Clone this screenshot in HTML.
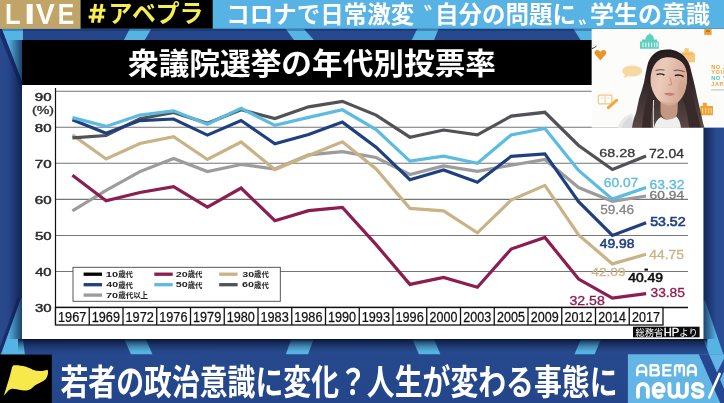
<!DOCTYPE html>
<html><head><meta charset="utf-8"><title>ABEMA news</title>
<style>html,body{margin:0;padding:0;background:#27498f;}body{width:724px;height:403px;overflow:hidden;font-family:"Liberation Sans",sans-serif;}svg{display:block}</style>
</head><body><svg role="img" aria-label="LIVE #アベプラ コロナで日常激変〝自分の問題に〟学生の意識 衆議院選挙の年代別投票率 若者の政治意識に変化？人生が変わる事態に ABEMA news" style="will-change:transform" width="724" height="403" viewBox="0 0 724 403"><defs>
<linearGradient id="bg" x1="0" y1="0" x2="1" y2="0">
<stop offset="0" stop-color="#28498c"/><stop offset="0.03" stop-color="#25458a"/><stop offset="0.5" stop-color="#27498f"/><stop offset="0.97" stop-color="#28498e"/><stop offset="1" stop-color="#2a4d94"/>
</linearGradient>
<linearGradient id="bar" x1="0" y1="0" x2="0" y2="1">
<stop offset="0" stop-color="#26498e"/><stop offset="1" stop-color="#24458a"/>
</linearGradient>
<linearGradient id="shl" x1="0" y1="0" x2="1" y2="0">
<stop offset="0" stop-color="#0b1b45" stop-opacity="0"/><stop offset="1" stop-color="#0b1b45" stop-opacity="0.75"/>
</linearGradient>
<linearGradient id="shr" x1="1" y1="0" x2="0" y2="0">
<stop offset="0" stop-color="#0b1b45" stop-opacity="0"/><stop offset="1" stop-color="#0b1b45" stop-opacity="0.75"/>
</linearGradient>
<linearGradient id="shb" x1="0" y1="1" x2="0" y2="0">
<stop offset="0" stop-color="#08122f" stop-opacity="0"/><stop offset="0.4" stop-color="#08122f" stop-opacity="0.25"/><stop offset="0.75" stop-color="#08122f" stop-opacity="0.6"/><stop offset="1" stop-color="#08122f" stop-opacity="0.97"/>
</linearGradient>
</defs>
<rect width="724" height="403" fill="url(#bg)"/>
<polygon fill="#55b4e4" points="1.7,28.7 23,28.7 23,84"/>
<polygon fill="#55b4e4" points="129.8,28.7 151.4,28.7 144.7,40 123.9,40"/>
<polygon fill="#55b4e4" points="285.6,28.7 303.8,28.7 313.8,40 293.9,40"/>
<polygon fill="#55b4e4" points="417.2,28.7 438.7,28.7 434,40 411.8,40"/>
<polygon fill="#55b4e4" points="573.4,28.7 592,28.7 592,40 580.6,40"/>
<polygon fill="#55b4e4" points="20.9,298 23,298 23,339 25,355 0.5,355"/>
<polygon fill="#55b4e4" points="124.3,339 145.8,339 152.5,354.6 131,354.6"/>
<polygon fill="#55b4e4" points="291.4,339 313.6,339 308,354.6 285.7,354.6"/>
<polygon fill="#55b4e4" points="412.4,339 433.9,339 440.5,354.6 419,354.6"/>
<polygon fill="#55b4e4" points="581,339 601,339 594.6,354.6 574.4,354.6"/>
<polygon fill="#55b4e4" points="704.8,299.8 724,356.3 724,388.4 709,354.3 703.1,338.5 703.4,303"/>
<polygon fill="#182d6c" points="0,28.7 1.7,28.7 23,84 23,94 0,36"/>
<polygon fill="#182d6c" points="20.9,298 0.5,355 0,355 0,347 17.5,298"/>
<rect x="0" y="28.7" width="724" height="2.2" fill="#0d2150" opacity="0.35"/>
<rect x="0" y="0" width="724" height="28.7" fill="#58b3e5"/>
<rect x="0" y="0" width="80.6" height="28.7" fill="#c0a468"/>
<rect x="80.6" y="0" width="132.1" height="28.7" fill="#000"/>
<text transform="translate(5.09,23.60) scale(0.857,1)" font-family="Liberation Sans, sans-serif" font-size="29.80" font-weight="bold" fill="#fffdf6">L</text>
<text transform="translate(23.96,23.60) scale(1.375,1)" font-family="Liberation Sans, sans-serif" font-size="29.80" font-weight="bold" fill="#fffdf6">I</text>
<text transform="translate(35.80,23.60) scale(0.961,1)" font-family="Liberation Sans, sans-serif" font-size="29.80" font-weight="bold" fill="#fffdf6">V</text>
<text transform="translate(57.84,23.60) scale(0.831,1)" font-family="Liberation Sans, sans-serif" font-size="29.80" font-weight="bold" fill="#fffdf6">E</text>
<path stroke="#f5ef52" stroke-width="3" fill="none" d="M95.6,3.9 L92.4,22.7 M102,3.9 L98.8,22.7 M90,10.2 H105.5 M88.6,17.1 H104.2"/>
<text x="108.5" y="22" font-family="'Liberation Sans', 'Noto Sans CJK JP', sans-serif" font-size="24" font-weight="bold" fill="#f5ef52" textLength="95" lengthAdjust="spacingAndGlyphs">アベプラ</text>
<text x="226.3" y="22.5" font-family="'Liberation Sans', 'Noto Sans CJK JP', sans-serif" font-size="23.5" font-weight="bold" fill="#fff" textLength="188" lengthAdjust="spacingAndGlyphs">コロナで日常激変</text>
<text x="435" y="22.5" font-family="'Liberation Sans', 'Noto Sans CJK JP', sans-serif" font-size="23.5" font-weight="bold" fill="#fff" textLength="141" lengthAdjust="spacingAndGlyphs">自分の問題に</text>
<text x="590" y="22.5" font-family="'Liberation Sans', 'Noto Sans CJK JP', sans-serif" font-size="23.5" font-weight="bold" fill="#fff" textLength="120" lengthAdjust="spacingAndGlyphs">学生の意識</text>
<path stroke="#fff" stroke-width="2" fill="none" d="M424.9,5.4 L427.7,10.6 M428.1,5 L430.9,9.6"/>
<path stroke="#fff" stroke-width="2" fill="none" d="M579.5,19.9 L581.9,24.7 M582.9,19.6 L585.2,24"/>
<rect x="8" y="40" width="14" height="299" fill="url(#shl)"/>
<rect x="703.4" y="128" width="13" height="211" fill="url(#shr)"/>
<rect x="18" y="339" width="689.4" height="13" fill="url(#shb)"/>
<rect x="22" y="40" width="681.4" height="299" fill="#fff"/>
<rect x="22" y="40" width="681.4" height="45" fill="#000"/>
<text x="128" y="74" font-family="'Liberation Sans', 'Noto Sans CJK JP', sans-serif" font-size="30" font-weight="bold" fill="#fff" textLength="368" lengthAdjust="spacingAndGlyphs">衆議院選挙の年代別投票率</text>
<line x1="55.5" y1="91.2" x2="688" y2="91.2" stroke="#757575" stroke-width="1.05"/>
<line x1="55.5" y1="127.25" x2="688" y2="127.25" stroke="#757575" stroke-width="1.05"/>
<line x1="55.5" y1="163.3" x2="688" y2="163.3" stroke="#757575" stroke-width="1.05"/>
<line x1="55.5" y1="199.35" x2="688" y2="199.35" stroke="#757575" stroke-width="1.05"/>
<line x1="55.5" y1="235.4" x2="688" y2="235.4" stroke="#757575" stroke-width="1.05"/>
<line x1="55.5" y1="271.45" x2="688" y2="271.45" stroke="#757575" stroke-width="1.05"/>
<line x1="55.5" y1="88" x2="55.5" y2="325" stroke="#111" stroke-width="1.2"/>
<line x1="55.5" y1="307.5" x2="688" y2="307.5" stroke="#111" stroke-width="1.3"/>
<text transform="translate(34.79,100.84) scale(1.389,1)" font-family="Liberation Sans, sans-serif" font-size="10.88" fill="#2a2a2a" stroke="#2a2a2a" stroke-width="0.45">90</text>
<text transform="translate(34.85,131.59) scale(1.384,1)" font-family="Liberation Sans, sans-serif" font-size="10.88" fill="#2a2a2a" stroke="#2a2a2a" stroke-width="0.45">80</text>
<text transform="translate(34.72,167.64) scale(1.395,1)" font-family="Liberation Sans, sans-serif" font-size="10.88" fill="#2a2a2a" stroke="#2a2a2a" stroke-width="0.45">70</text>
<text transform="translate(34.73,203.69) scale(1.394,1)" font-family="Liberation Sans, sans-serif" font-size="10.88" fill="#2a2a2a" stroke="#2a2a2a" stroke-width="0.45">60</text>
<text transform="translate(34.90,239.74) scale(1.379,1)" font-family="Liberation Sans, sans-serif" font-size="10.88" fill="#2a2a2a" stroke="#2a2a2a" stroke-width="0.45">50</text>
<text transform="translate(35.16,275.79) scale(1.357,1)" font-family="Liberation Sans, sans-serif" font-size="10.88" fill="#2a2a2a" stroke="#2a2a2a" stroke-width="0.45">40</text>
<text transform="translate(34.93,311.84) scale(1.377,1)" font-family="Liberation Sans, sans-serif" font-size="10.88" fill="#2a2a2a" stroke="#2a2a2a" stroke-width="0.45">30</text>
<text transform="translate(31.92,114.44) scale(1.330,1)" font-family="Liberation Sans, sans-serif" font-size="10.72" fill="#333" stroke="#333" stroke-width="0.35">(%)</text>
<rect x="55.5" y="307.5" width="607.5" height="17.5" fill="#fff" stroke="#111" stroke-width="1.3"/>
<text transform="translate(58.01,321.56) scale(0.919,1)" font-family="Liberation Sans, sans-serif" font-size="13.84" fill="#111" stroke="#111" stroke-width="0.25">1967</text>
<line x1="89.25" y1="307.5" x2="89.25" y2="325" stroke="#111" stroke-width="1.3"/>
<text transform="translate(91.76,321.56) scale(0.918,1)" font-family="Liberation Sans, sans-serif" font-size="13.84" fill="#111" stroke="#111" stroke-width="0.25">1969</text>
<line x1="123" y1="307.5" x2="123" y2="325" stroke="#111" stroke-width="1.3"/>
<text transform="translate(125.51,321.56) scale(0.919,1)" font-family="Liberation Sans, sans-serif" font-size="13.84" fill="#111" stroke="#111" stroke-width="0.25">1972</text>
<line x1="156.75" y1="307.5" x2="156.75" y2="325" stroke="#111" stroke-width="1.3"/>
<text transform="translate(159.26,321.56) scale(0.917,1)" font-family="Liberation Sans, sans-serif" font-size="13.84" fill="#111" stroke="#111" stroke-width="0.25">1976</text>
<line x1="190.5" y1="307.5" x2="190.5" y2="325" stroke="#111" stroke-width="1.3"/>
<text transform="translate(193.01,321.56) scale(0.918,1)" font-family="Liberation Sans, sans-serif" font-size="13.84" fill="#111" stroke="#111" stroke-width="0.25">1979</text>
<line x1="224.25" y1="307.5" x2="224.25" y2="325" stroke="#111" stroke-width="1.3"/>
<text transform="translate(226.76,321.56) scale(0.914,1)" font-family="Liberation Sans, sans-serif" font-size="13.84" fill="#111" stroke="#111" stroke-width="0.25">1980</text>
<line x1="258" y1="307.5" x2="258" y2="325" stroke="#111" stroke-width="1.3"/>
<text transform="translate(260.51,321.56) scale(0.917,1)" font-family="Liberation Sans, sans-serif" font-size="13.84" fill="#111" stroke="#111" stroke-width="0.25">1983</text>
<line x1="291.75" y1="307.5" x2="291.75" y2="325" stroke="#111" stroke-width="1.3"/>
<text transform="translate(294.26,321.56) scale(0.917,1)" font-family="Liberation Sans, sans-serif" font-size="13.84" fill="#111" stroke="#111" stroke-width="0.25">1986</text>
<line x1="325.5" y1="307.5" x2="325.5" y2="325" stroke="#111" stroke-width="1.3"/>
<text transform="translate(328.01,321.56) scale(0.914,1)" font-family="Liberation Sans, sans-serif" font-size="13.84" fill="#111" stroke="#111" stroke-width="0.25">1990</text>
<line x1="359.25" y1="307.5" x2="359.25" y2="325" stroke="#111" stroke-width="1.3"/>
<text transform="translate(361.76,321.56) scale(0.917,1)" font-family="Liberation Sans, sans-serif" font-size="13.84" fill="#111" stroke="#111" stroke-width="0.25">1993</text>
<line x1="393" y1="307.5" x2="393" y2="325" stroke="#111" stroke-width="1.3"/>
<text transform="translate(395.51,321.56) scale(0.917,1)" font-family="Liberation Sans, sans-serif" font-size="13.84" fill="#111" stroke="#111" stroke-width="0.25">1996</text>
<line x1="426.75" y1="307.5" x2="426.75" y2="325" stroke="#111" stroke-width="1.3"/>
<text transform="translate(429.60,321.56) scale(0.903,1)" font-family="Liberation Sans, sans-serif" font-size="13.84" fill="#111" stroke="#111" stroke-width="0.25">2000</text>
<line x1="460.5" y1="307.5" x2="460.5" y2="325" stroke="#111" stroke-width="1.3"/>
<text transform="translate(463.34,321.56) scale(0.905,1)" font-family="Liberation Sans, sans-serif" font-size="13.84" fill="#111" stroke="#111" stroke-width="0.25">2003</text>
<line x1="494.25" y1="307.5" x2="494.25" y2="325" stroke="#111" stroke-width="1.3"/>
<text transform="translate(497.10,321.56) scale(0.905,1)" font-family="Liberation Sans, sans-serif" font-size="13.84" fill="#111" stroke="#111" stroke-width="0.25">2005</text>
<line x1="528" y1="307.5" x2="528" y2="325" stroke="#111" stroke-width="1.3"/>
<text transform="translate(530.84,321.56) scale(0.907,1)" font-family="Liberation Sans, sans-serif" font-size="13.84" fill="#111" stroke="#111" stroke-width="0.25">2009</text>
<line x1="561.75" y1="307.5" x2="561.75" y2="325" stroke="#111" stroke-width="1.3"/>
<text transform="translate(564.59,321.56) scale(0.908,1)" font-family="Liberation Sans, sans-serif" font-size="13.84" fill="#111" stroke="#111" stroke-width="0.25">2012</text>
<line x1="595.5" y1="307.5" x2="595.5" y2="325" stroke="#111" stroke-width="1.3"/>
<text transform="translate(598.35,321.56) scale(0.899,1)" font-family="Liberation Sans, sans-serif" font-size="13.84" fill="#111" stroke="#111" stroke-width="0.25">2014</text>
<line x1="629.25" y1="307.5" x2="629.25" y2="325" stroke="#111" stroke-width="1.3"/>
<text transform="translate(632.09,321.56) scale(0.908,1)" font-family="Liberation Sans, sans-serif" font-size="13.84" fill="#111" stroke="#111" stroke-width="0.25">2017</text>
<polyline fill="none" stroke="#9c9c9c" stroke-width="3.2" stroke-linejoin="miter" stroke-linecap="butt" points="72.4,210.8 106.1,190.3 139.9,171.6 173.6,158.4 207.4,171.5 241.1,164.5 274.9,169.0 308.6,154.8 342.4,151.7 376.1,157.5 409.9,174.5 443.6,165.9 477.4,171.3 511.1,165.2 544.9,159.5 578.6,187.5 612.4,201.3 646.1,196.0"/>
<polyline fill="none" stroke="#c9b386" stroke-width="3.2" stroke-linejoin="miter" stroke-linecap="butt" points="72.4,134.9 106.1,159.0 139.9,143.5 173.6,136.6 207.4,159.5 241.1,142.0 274.9,169.6 308.6,155.5 342.4,141.8 376.1,168.9 409.9,208.4 443.6,210.8 477.4,232.8 511.1,200.1 544.9,185.4 578.6,235.0 612.4,263.9 646.1,254.3"/>
<polyline fill="none" stroke="#505256" stroke-width="3.2" stroke-linejoin="miter" stroke-linecap="butt" points="72.4,137.8 106.1,135.5 139.9,118.8 173.6,112.4 207.4,123.2 241.1,109.8 274.9,118.5 308.6,106.8 342.4,101.3 376.1,115.1 409.9,137.2 443.6,130.0 477.4,134.9 511.1,116.1 544.9,112.3 578.6,145.5 612.4,169.5 646.1,155.9"/>
<polyline fill="none" stroke="#1f4080" stroke-width="3.2" stroke-linejoin="miter" stroke-linecap="butt" points="72.4,119.8 106.1,133.3 139.9,120.6 173.6,119.0 207.4,135.1 241.1,120.5 274.9,143.7 308.6,134.5 342.4,122.1 376.1,147.1 409.9,179.7 443.6,170.0 477.4,182.3 511.1,156.3 544.9,153.8 578.6,201.6 612.4,235.5 646.1,222.7"/>
<polyline fill="none" stroke="#5bbbe0" stroke-width="3.2" stroke-linejoin="miter" stroke-linecap="butt" points="72.4,117.6 106.1,126.4 139.9,115.1 173.6,110.8 207.4,124.3 241.1,108.4 274.9,125.4 308.6,117.4 342.4,109.8 376.1,129.6 409.9,161.1 443.6,156.2 477.4,163.3 511.1,135.0 544.9,128.4 578.6,170.4 612.4,199.1 646.1,187.4"/>
<polyline fill="none" stroke="#8c1d4f" stroke-width="3.2" stroke-linejoin="miter" stroke-linecap="butt" points="72.4,175.2 106.1,200.8 139.9,192.5 173.6,186.7 207.4,207.2 241.1,188.1 274.9,220.7 308.6,210.7 342.4,207.4 376.1,244.6 409.9,284.4 443.6,277.4 477.4,287.2 511.1,249.1 544.9,237.4 578.6,279.1 612.4,298.2 646.1,293.6"/>
<rect x="644.5" y="268.6" width="3.4" height="2" fill="#000"/>
<text transform="translate(599.27,156.59) scale(1.241,1)" font-family="Liberation Sans, sans-serif" font-size="11.58" fill="#3a3a3a" stroke="#3a3a3a" stroke-width="0.3">68.28</text>
<text transform="translate(649.09,157.78) scale(1.159,1)" font-family="Liberation Sans, sans-serif" font-size="12.01" fill="#333" stroke="#333" stroke-width="0.3">72.04</text>
<text transform="translate(603.80,187.38) scale(1.145,1)" font-family="Liberation Sans, sans-serif" font-size="12.01" fill="#5bbbe0" stroke="#5bbbe0" stroke-width="0.3">60.07</text>
<text transform="translate(649.59,188.98) scale(1.159,1)" font-family="Liberation Sans, sans-serif" font-size="12.01" fill="#5bbbe0" stroke="#5bbbe0" stroke-width="0.3">63.32</text>
<text transform="translate(600.16,213.58) scale(1.130,1)" font-family="Liberation Sans, sans-serif" font-size="12.01" fill="#858585" stroke="#858585" stroke-width="0.3">59.46</text>
<text transform="translate(649.60,199.09) scale(1.176,1)" font-family="Liberation Sans, sans-serif" font-size="11.72" fill="#777" stroke="#777" stroke-width="0.3">60.94</text>
<text transform="translate(599.68,248.08) scale(1.169,1)" font-family="Liberation Sans, sans-serif" font-size="11.86" fill="#1f4080" stroke="#1f4080" stroke-width="0.5">49.98</text>
<text transform="translate(650.13,225.88) scale(1.181,1)" font-family="Liberation Sans, sans-serif" font-size="12.01" fill="#1f4080" stroke="#1f4080" stroke-width="0.6">53.52</text>
<text transform="translate(591.28,276.39) scale(1.171,1)" font-family="Liberation Sans, sans-serif" font-size="11.72" fill="#c9b386" stroke="#c9b386" stroke-width="0.3">42.09</text>
<text transform="translate(649.28,258.58) scale(1.165,1)" font-family="Liberation Sans, sans-serif" font-size="11.86" fill="#c9b386" stroke="#c9b386" stroke-width="0.3">44.75</text>
<text transform="translate(628.18,282.18) scale(1.171,1)" font-family="Liberation Sans, sans-serif" font-size="11.86" fill="#111" stroke="#111" stroke-width="0.6">40.49</text>
<text transform="translate(569.46,304.98) scale(1.194,1)" font-family="Liberation Sans, sans-serif" font-size="11.86" fill="#8c1d4f" stroke="#8c1d4f" stroke-width="0.3">32.58</text>
<text transform="translate(650.47,296.98) scale(1.162,1)" font-family="Liberation Sans, sans-serif" font-size="11.86" fill="#8c1d4f" stroke="#8c1d4f" stroke-width="0.3">33.85</text>
<rect x="73" y="267.3" width="207.3" height="34" fill="#fff" stroke="#444" stroke-width="0.9"/>
<rect x="83.6" y="272.55" width="18.4" height="3.3" fill="#000"/>
<text transform="translate(105.80,276.92) scale(1.430,1)" font-family="Liberation Sans, sans-serif" font-size="7.77" font-weight="bold" fill="#222">10</text>
<text x="118.2" y="277.1" font-family="'Liberation Sans', 'Noto Sans CJK JP', sans-serif" font-size="7.5" font-weight="bold" fill="#222" textLength="14.8" lengthAdjust="spacingAndGlyphs">歳代</text>
<rect x="154.3" y="272.55" width="18.4" height="3.3" fill="#8c1d4f"/>
<text transform="translate(175.73,276.92) scale(1.391,1)" font-family="Liberation Sans, sans-serif" font-size="7.77" font-weight="bold" fill="#222">20</text>
<text x="187.7" y="277.1" font-family="'Liberation Sans', 'Noto Sans CJK JP', sans-serif" font-size="7.5" font-weight="bold" fill="#222" textLength="14.8" lengthAdjust="spacingAndGlyphs">歳代</text>
<rect x="219.2" y="272.55" width="18.4" height="3.3" fill="#c9b386"/>
<text transform="translate(242.25,276.92) scale(1.375,1)" font-family="Liberation Sans, sans-serif" font-size="7.77" font-weight="bold" fill="#222">30</text>
<text x="254.1" y="277.1" font-family="'Liberation Sans', 'Noto Sans CJK JP', sans-serif" font-size="7.5" font-weight="bold" fill="#222" textLength="14.8" lengthAdjust="spacingAndGlyphs">歳代</text>
<rect x="83.6" y="283.05" width="18.4" height="3.3" fill="#1f4080"/>
<text transform="translate(106.34,287.42) scale(1.365,1)" font-family="Liberation Sans, sans-serif" font-size="7.77" font-weight="bold" fill="#222">40</text>
<text x="118.2" y="287.6" font-family="'Liberation Sans', 'Noto Sans CJK JP', sans-serif" font-size="7.5" font-weight="bold" fill="#222" textLength="14.8" lengthAdjust="spacingAndGlyphs">歳代</text>
<rect x="154.3" y="283.05" width="18.4" height="3.3" fill="#5bbbe0"/>
<text transform="translate(175.77,287.42) scale(1.386,1)" font-family="Liberation Sans, sans-serif" font-size="7.77" font-weight="bold" fill="#222">50</text>
<text x="187.7" y="287.6" font-family="'Liberation Sans', 'Noto Sans CJK JP', sans-serif" font-size="7.5" font-weight="bold" fill="#222" textLength="14.8" lengthAdjust="spacingAndGlyphs">歳代</text>
<rect x="219.2" y="283.05" width="18.4" height="3.3" fill="#505256"/>
<text transform="translate(242.10,287.42) scale(1.393,1)" font-family="Liberation Sans, sans-serif" font-size="7.77" font-weight="bold" fill="#222">60</text>
<text x="254.1" y="287.6" font-family="'Liberation Sans', 'Noto Sans CJK JP', sans-serif" font-size="7.5" font-weight="bold" fill="#222" textLength="14.8" lengthAdjust="spacingAndGlyphs">歳代</text>
<rect x="83.6" y="293.45" width="18.4" height="3.3" fill="#9c9c9c"/>
<text transform="translate(106.03,297.82) scale(1.402,1)" font-family="Liberation Sans, sans-serif" font-size="7.77" font-weight="bold" fill="#222">70</text>
<text x="118.2" y="298" font-family="'Liberation Sans', 'Noto Sans CJK JP', sans-serif" font-size="7.5" font-weight="bold" fill="#222" textLength="29.9" lengthAdjust="spacingAndGlyphs">歳代以上</text>
<rect x="633" y="326.7" width="66.6" height="10.6" fill="#0c0c0c"/>
<text x="635.6" y="335.6" font-family="'Liberation Sans', 'Noto Sans CJK JP', sans-serif" font-size="9.5" fill="#fff" textLength="27.8" lengthAdjust="spacingAndGlyphs">総務省</text>
<text x="679.3" y="335.6" font-family="'Liberation Sans', 'Noto Sans CJK JP', sans-serif" font-size="9.5" fill="#fff" textLength="18.4" lengthAdjust="spacingAndGlyphs">より</text>
<text transform="translate(663.68,335.60) scale(1.097,1)" font-family="Liberation Sans, sans-serif" font-size="10.17" fill="#fff" stroke="#fff" stroke-width="0.3">HP</text>
<defs><clipPath id="icl"><rect x="591.4" y="28.7" width="132.6" height="99.1"/></clipPath>
<linearGradient id="hair" x1="0" y1="0" x2="0" y2="1"><stop offset="0" stop-color="#241c1d"/><stop offset="0.45" stop-color="#33282a"/><stop offset="1" stop-color="#5b4844"/></linearGradient>
<linearGradient id="skin" x1="0" y1="0" x2="1" y2="0.3"><stop offset="0" stop-color="#e0b8a4"/><stop offset="0.4" stop-color="#eccbba"/><stop offset="1" stop-color="#d6a994"/></linearGradient>
<filter id="bl" x="-5%" y="-5%" width="110%" height="110%"><feGaussianBlur stdDeviation="0.55"/></filter>
<filter id="bl2" x="-10%" y="-10%" width="120%" height="120%"><feGaussianBlur stdDeviation="1.2"/></filter>
</defs>
<g clip-path="url(#icl)">
<rect x="591.4" y="28.7" width="132.6" height="99.1" fill="#fcfcfb"/>
<g filter="url(#bl)">
<path fill="#5fd0c0" d="M640,48.8V41.5h2V39.5h3.5C645.5,36.5 647,34.6 649.4,34.2V33h0.8v1.2C652.6,34.6 654,36.5 654,39.5h3v2h1.8v7.3Z"/>
<rect x="642.4" y="42.5" width="1.1" height="4.6" fill="#eafaf7"/>
<rect x="645.3" y="42.5" width="1.1" height="4.6" fill="#eafaf7"/>
<rect x="648.2" y="42.5" width="1.1" height="4.6" fill="#eafaf7"/>
<rect x="651.1" y="42.5" width="1.1" height="4.6" fill="#eafaf7"/>
<rect x="654" y="42.5" width="1.1" height="4.6" fill="#eafaf7"/>
<rect x="656.5" y="42.5" width="1.1" height="4.6" fill="#eafaf7"/>
<path fill="#e8962c" d="M600.4,60.4 L595.2,54.6 C593.6,52.4 595,49.9 597.3,49.9 C598.8,49.9 599.9,50.9 600.4,52 C600.9,50.9 602,49.9 603.5,49.9 C605.8,49.9 607.2,52.4 605.6,54.6 Z"/>
<ellipse cx="632.2" cy="71" rx="10" ry="5.6" fill="#f6d9a2"/>
<path fill="#f6d9a2" d="M625,74 L624,78 L629,75.5Z"/>
<path fill="#f6c77c" d="M684.5,48.2h4.2v3.2h3.4l2.9,2.4v8.4h-14.2v-8.4l2.4,-2.4h1.3Z"/>
<rect x="683" y="53.6" width="9.6" height="0.9" fill="#e9a94e"/>
<rect x="704.2" y="28.7" width="7.4" height="6.2" fill="#f0a132"/>
<rect x="706" y="30.6" width="3.8" height="1" fill="#7a5a20"/>
<rect x="598.4" y="95.2" width="13.4" height="8.6" fill="#fff" stroke="#f2c88a" stroke-width="1.3" rx="0.8"/>
<line x1="605.1" y1="95.2" x2="605.1" y2="103.8" stroke="#f2c88a" stroke-width="1"/>
<line x1="600.5" y1="98" x2="603.5" y2="98" stroke="#f2c88a" stroke-width="0.8"/>
<line x1="607" y1="98" x2="610" y2="98" stroke="#f2c88a" stroke-width="0.8"/>
<line x1="608.3" y1="107.6" x2="616.6" y2="100.3" stroke="#f1a83e" stroke-width="3" stroke-linecap="round"/>
<path fill="#f0a132" d="M700.3,115.2V106h2.5v-3.2h4v3.2h6.2v9.2Z"/>
<rect x="702" y="108" width="1.2" height="5.4" fill="#f8cf8e"/>
<rect x="705" y="108" width="1.2" height="5.4" fill="#f8cf8e"/>
<rect x="708" y="108" width="1.2" height="5.4" fill="#f8cf8e"/>
<rect x="710.6" y="108" width="1.2" height="5.4" fill="#f8cf8e"/>
<text x="711.3" y="68.7" font-family="Liberation Sans, sans-serif" font-weight="bold" font-size="5.6" fill="#efa236" letter-spacing="0.5">NO JOB</text>
<text x="711.3" y="74.4" font-family="Liberation Sans, sans-serif" font-weight="bold" font-size="5.6" fill="#efa236" letter-spacing="0.5">YOUTH</text>
<text x="711.3" y="80.3" font-family="Liberation Sans, sans-serif" font-weight="bold" font-size="5.6" fill="#4cc5b5" letter-spacing="0.5">NO YOUTH</text>
<text x="711.3" y="86" font-family="Liberation Sans, sans-serif" font-weight="bold" font-size="5.6" fill="#efa236" letter-spacing="0.5">JAPAN</text>
<rect x="711.3" y="89.4" width="13" height="1" fill="#b9b9b9"/>
<path d="M592,48.6 L594.3,47.6 L596.4,46.2" stroke="#222" stroke-width="0.9" fill="none"/>
</g>
<g filter="url(#bl)">
<path fill="#e9e9ea" d="M618,128 C619.5,121 624,116 632,113.5 L640,128Z"/>
<path fill="#cfd0d4" d="M622,128 C623,123 626,119 631,116.5 L634,128Z" opacity="0.6"/>
<path fill="url(#hair)" d="M667,49.5 C673,49 679.5,51.5 683.8,56 C688,60.5 690,65 691,70.4 C692.5,76 693.8,81.5 695,86.7 C696.3,93 697.6,99 699,105 C700.5,111 701.8,117 703,123 L704.5,128 L632,128 C632.8,122 634,117.5 636,113 C637.2,108 638,103.5 639,99 C640.8,93.5 642.5,88 644,82.6 C645.3,75.5 646.5,68.5 648.2,62.3 C650.5,56.5 655,52 660.5,50.3 C662.8,49.7 665,49.5 667,49.5Z"/>
<path fill="#c39883" d="M660.5,99 L678,98 L677.5,112 C677,116 675,119.5 670,120 C665,120 661,117 660.5,112Z"/>
<path fill="#efefee" d="M654,128 C655,122.5 657.5,119 661,117 C664.5,120.5 672,120.5 676.5,116.5 C679,119 680.5,123 681,128Z"/>
<path fill="url(#skin)" d="M652,66 C654.5,61.5 660,58 666.5,57.2 C672,56.8 678.5,58.5 682.5,62.5 C685.8,66 687,70 687.2,74.5 C687.4,79.5 687,84.5 685.8,89 C684.4,94 682,98.5 678.5,101.8 C675.5,104.3 672,105.6 668.5,105.4 C664.8,105 661.5,103.2 658.5,100.2 C655,96.5 652.5,91.5 651,86.5 C649.7,81.5 649.2,76 649.8,71.5 C650.2,69.5 651,67.5 652,66Z"/>
<path fill="#c79a86" opacity="0.5" d="M658.5,100.2 C661.5,103.2 664.8,105 668.5,105.4 C672,105.6 675.5,104.3 678.5,101.8 C676,102.6 672,103 668.5,102.8 C665,102.6 661.5,101.6 658.5,100.2Z"/>
<path fill="#2a2021" d="M667.5,55.6 C662,57 656.5,61 653.5,66.5 C651.5,70.5 650.5,75 650.5,80.5 L649,86 C647.5,80 647.5,72 649.5,65 C652,57.5 659,52.5 667,51.5Z"/>
<path fill="#2a2021" d="M667.5,55.6 C673,56 679.5,59 683.5,64 C686,67.5 687,72 687.4,76.5 L688.2,84 C690.5,79 690.5,70 688,64 C684.5,56.5 676.5,51.5 668,51.5Z"/>
<path fill="#382b2b" d="M650.3,80 C650.8,87 652.8,93.5 656,99 C654,101.5 652.8,105 652.2,109 C651.2,115.5 650.8,122 650.8,128 L642,128 C642.5,118 644.5,107 647,97.5 C648.3,91.5 649.5,85.5 650.3,80Z"/>
<path fill="#382b2b" d="M687.3,78 C687.3,86 685.8,93 682.5,98.5 C684.5,103.5 686.2,109.5 687.5,116 C688.3,120 688.8,124 689.2,128 L701,128 C698.5,118 695,105 692.2,94.5 C690.8,88.5 689.3,83 687.3,78Z"/>
<path d="M655.5,70.8 C658,69.6 661.5,69.4 664.5,70.2" stroke="#5b4038" stroke-width="1.2" fill="none" opacity="0.7"/>
<path d="M673.8,70.6 C677,69.8 681,70.2 684.6,71.8" stroke="#5b4038" stroke-width="1.2" fill="none" opacity="0.7"/>
<path d="M656.6,74.6 C658.8,73.7 662,73.8 664.4,75" stroke="#2b1e1c" stroke-width="1.4" fill="none"/>
<path d="M674.8,75.6 C677.4,74.8 681,75.1 683.6,76.6" stroke="#2b1e1c" stroke-width="1.4" fill="none"/>
<path d="M670.2,77.5 C670.6,80.5 671.2,82.5 671.8,84.2 C670.6,85.2 669,85.2 668,84.6" stroke="#c08f79" stroke-width="1" fill="none"/>
<path d="M663.8,93.6 C666,92.4 670,92.4 675.4,93.9 C672.5,96.4 666.6,96.3 663.8,93.6Z" fill="#c27f7a"/>
<ellipse cx="681.5" cy="88" rx="3.5" ry="8" fill="#c89883" opacity="0.22"/>
<path d="M653.6,100 C653.2,108 653.2,118 653.6,128" stroke="#f5f5f5" stroke-width="0.9" fill="none"/>
</g>
</g>
<rect x="0" y="354.5" width="724" height="49" fill="url(#bar)"/>
<rect x="0" y="354.6" width="51.8" height="49" fill="#000"/>
<path fill="#f7e94c" d="M3.8,395.7 L9.5,377.3 L12,367.6 C12.5,365.6 13.6,365.1 15.2,365.3 C18.5,365.2 22,365.8 25.3,366.6 C28,367.4 30.5,368.8 32.9,369.7 C35.5,370.7 38,371.1 40.5,371 C43,370.9 45.5,370.3 47.5,369.7 C48.2,371 48.2,372.8 47.8,374.2 C47.4,376.2 46.6,377.9 45.6,379.2 C44,380.6 42.3,381.6 40.5,382.4 C38.5,383.3 36.5,384.2 34.8,385.5 C33.2,386.8 32,388.3 30.4,389.3 C28.5,390.4 26.3,390.7 24,390.6 C21.5,390.5 19,389.8 16.5,389.3 C15,389 13.5,388.6 12,388.7 C10.8,388.9 9.7,389.4 8.9,390 Z"/>
<text x="60.5" y="395" font-family="'Liberation Sans', 'Noto Sans CJK JP', sans-serif" font-size="35" font-weight="bold" fill="#fff" textLength="557" lengthAdjust="spacingAndGlyphs">若者の政治意識に変化？人生が変わる事態に</text>
<polygon fill="#62b5e4" points="627.9,354.3 724,354.3 724,403 627.9,403"/>
<polygon fill="#254690" points="698.8,354.3 709,354.3 724,388.4 724,403 720.3,403"/>
<polygon fill="#254690" points="724,358.75 724,371.25 719.2,381.4 715.25,376"/>
<g fill="none" stroke="#fff" stroke-linecap="round" stroke-linejoin="round">
<path stroke-width="2.4" d="M637.25,375.35 V369.7 a4.45,4.45 0 0 1 8.9,0 V375.35 M637.25,371.8 H646.15 M650.65,365.25 V375.35 H656.2 a2.7,2.7 0 0 0 0,-5.4 H650.65 M650.65,365.25 H655.9 a2.35,2.35 0 0 1 0,4.7 M670.65,365.25 H663.45 V375.35 H670.65 M663.45,370.3 H669.9 M675.05,375.35 V367.6 a2.22,2.3 0 0 1 4.45,0 V371.5 M679.5,367.6 a2.22,2.3 0 0 1 4.45,0 V375.35 M687.95,375.35 V369.15 a3.9,3.9 0 0 1 7.8,0 V375.35 M687.95,371.8 H695.75"/>
<path stroke-width="3.9" d="M637.95,396.85 V388.9 a4.95,4.95 0 0 1 9.9,0 V396.85 M653.65,390.9 H663.55 V389.6 a4.95,5.65 0 0 0 -9.9,0 V391.2 a4.95,5.65 0 0 0 8.13,4.33 M669.45,383.95 V391.9 a4.35,4.95 0 0 0 8.7,0 V383.95 M678.15,391.9 a4.35,4.95 0 0 0 8.7,0 V383.95 M702.3,386.4 C701.3,384.6 699.6,383.95 697.6,383.95 C694.8,383.95 693,385.4 693,387.3 C693,389.3 694.6,390 697.7,390.5 C700.8,391 702.5,391.8 702.5,393.7 C702.5,395.7 700.6,396.85 697.7,396.85 C695.3,396.85 693.5,396 692.8,394.2"/>
<path stroke-width="2.6" d="M709.2,397.6 L719.6,373.9"/>
</g></svg></body></html>
